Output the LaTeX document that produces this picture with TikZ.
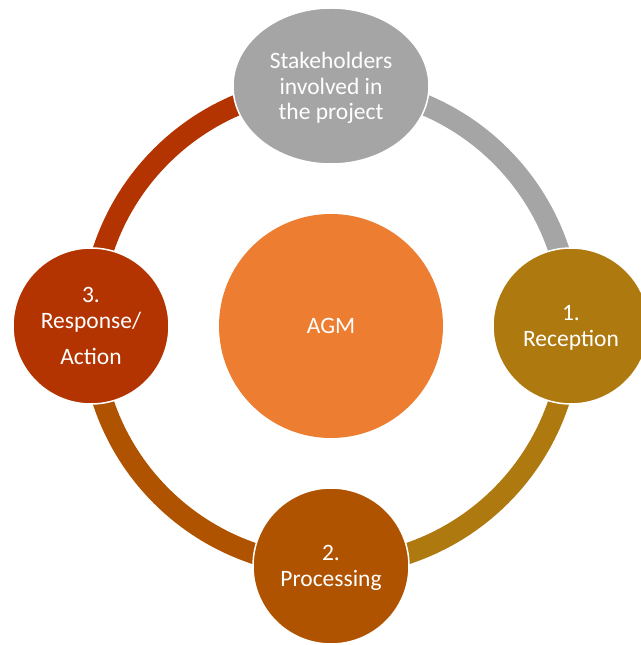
\documentclass[tikz,border=0pt]{standalone}
\usepackage{fontspec}
\setmainfont{Carlito}
\usetikzlibrary{positioning,shapes.geometric,backgrounds}

\definecolor{agmOrange}{HTML}{ED7D31}
\definecolor{stakeGray}{HTML}{A5A5A5}
\definecolor{recGold}{HTML}{AE790F}
\definecolor{procBrown}{HTML}{B05300}
\definecolor{respRed}{HTML}{B33400}

\begin{document}
\begin{tikzpicture}[x=1pt, y=1pt, node distance=240pt, on grid]
	\tikzstyle{stage} = [circle, draw=white, line width=1.5pt, fill=stakeGray, text=white, minimum size=156pt, inner sep=0pt, text depth=0pt, align=center, font={\fontsize{23.5}{25.3}\selectfont}]
	\tikzstyle{stageEdge} = [line width=21pt];
	
	\useasboundingbox (0,0) rectangle (640,645);
	
	\node[stage, draw=none, fill=agmOrange, minimum size=224pt](agm) at (331,319) {AGM};
	\node[stage, ellipse, minimum width=196pt](stake) [above=of agm]{Stakeholders\\involved in\\the project};
	\node[stage, fill=recGold](rec) [right=of agm]{1.\\Reception};
	\node[stage, fill=procBrown](proc) [below=of agm]{2.\\Processing};
	\node[stage, fill=respRed](resp) [left=of agm]{3.\\Response/\\[11pt]Action};
	
	% ring pieces go under the stage nodes
	\begin{pgfonlayer}{background}
	\path[stageEdge]
	(stake.center) edge [bend left=45, draw=stakeGray] (rec.center)
	(rec.center) edge [bend left=45, draw=recGold] (proc.center)
	(proc.center) edge [bend left=45, draw=procBrown] (resp.center)
	(resp.center) edge [bend left=45, draw=respRed] (stake.center);
	\end{pgfonlayer}
\end{tikzpicture}
\end{document}
